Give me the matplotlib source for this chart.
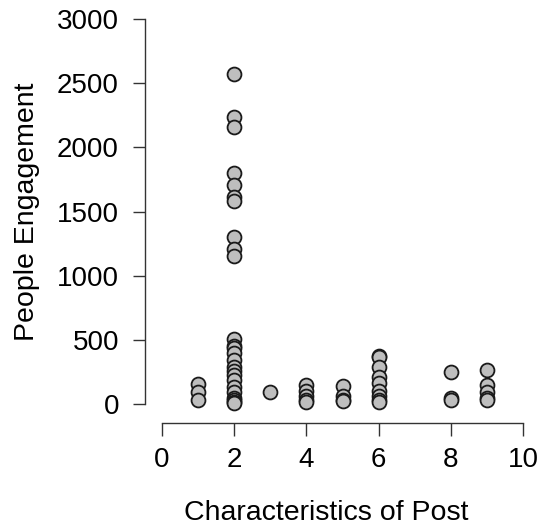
import numpy as np
import matplotlib
matplotlib.use("Agg")
from matplotlib import pyplot as plt

plt.rcParams['font.family'] = ['Liberation Sans', 'DejaVu Sans']

# Characteristics of post (x) and people engagement (y)
x_vals = [1, 1, 1,
          2, 2, 2, 2, 2, 2, 2, 2, 2, 2,
          2, 2, 2, 2, 2, 2, 2, 2, 2, 2, 2, 2, 2, 2, 2,
          3,
          4, 4, 4, 4, 4,
          5, 5, 5, 5,
          6, 6, 6, 6, 6, 6, 6, 6, 6,
          8, 8, 8,
          9, 9, 9, 9, 9]
y_vals = [155, 95, 35,
          2575, 2235, 2160, 1800, 1705, 1615, 1585, 1300, 1210, 1150,
          505, 450, 440, 400, 345, 290, 260, 225, 185, 135, 90, 50, 30, 15, 5,
          90,
          150, 100, 60, 30, 15,
          140, 60, 35, 20,
          375, 365, 285, 210, 160, 100, 60, 35, 15,
          250, 45, 30,
          265, 150, 95, 45, 30]

x_ticks = [0, 2, 4, 6, 8, 10]
y_ticks = [0, 500, 1000, 1500, 2000, 2500, 3000]

fig = plt.figure(figsize=(5.42, 5.27), dpi=100)
ax = fig.add_axes([162/542, 123/527, 361/542, 385/527])

ax.scatter(x_vals, y_vals, s=100, facecolor='#bebebe', edgecolor='#1a1a1a',
           linewidth=1.3, clip_on=False, zorder=3)

ax.set_xlim(0, 10)
ax.set_ylim(0, 3000)
ax.set_xticks(x_ticks)
ax.set_yticks(y_ticks)

for side in ['top', 'right']:
    ax.spines[side].set_visible(False)
ax.spines['left'].set_position(('outward', 12))
ax.spines['bottom'].set_position(('outward', 14))
ax.spines['left'].set_bounds(0, 3000)
ax.spines['bottom'].set_bounds(0, 10)
for side in ['left', 'bottom']:
    ax.spines[side].set_color('#333333')
    ax.spines[side].set_linewidth(1.0)

ax.tick_params(axis='both', length=9, width=1.0, color='#333333',
               labelsize=20, labelcolor='black')
ax.tick_params(axis='x', pad=8)
ax.tick_params(axis='y', pad=10)

ax.set_xlabel('Characteristics of Post', fontsize=20.5, labelpad=16)
ax.xaxis.set_label_coords(0.455, -0.25)
ax.set_ylabel('People Engagement', fontsize=20.5, labelpad=12)

fig.savefig('out.png', dpi=100)
